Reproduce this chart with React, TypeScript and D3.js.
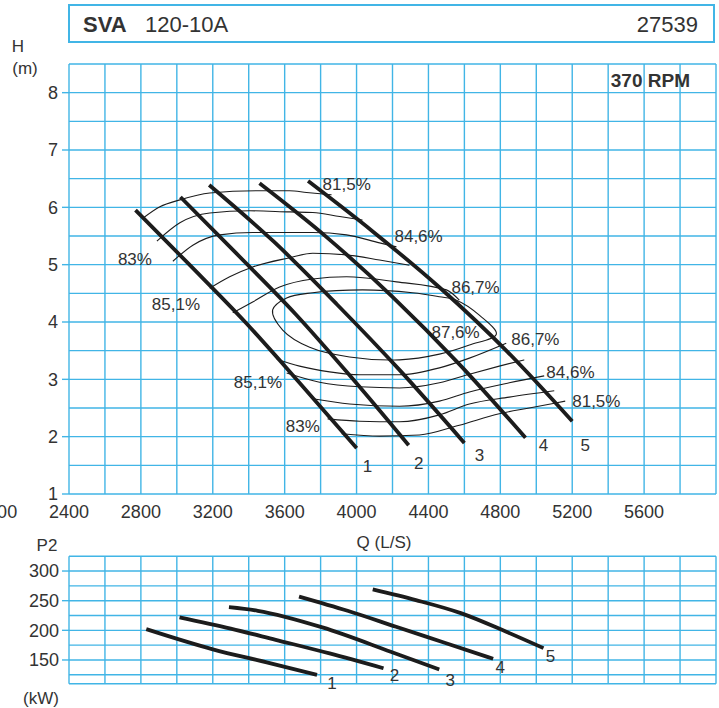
import React from "react";
import * as d3 from "d3";

// ---------- axis ticks ----------
const Q_TICKS = [2000, 2400, 2800, 3200, 3600, 4000, 4400, 4800, 5200, 5600];
const H_TICKS = [1, 2, 3, 4, 5, 6, 7, 8];
const P_TICKS = [150, 200, 250, 300];
const CURVE_NAMES = ["1", "2", "3", "4", "5"];

// ---------- head curves (Q L/s, H m) ----------
const H1_Q = [2770, 3070, 3380, 3680, 4000];
const H1_H = [5.95, 5.0, 4.0, 2.95, 1.8];
const H2_Q = [3020, 3330, 3660, 3970, 4290];
const H2_H = [6.18, 5.2, 4.14, 3.04, 1.85];
const H3_Q = [3180, 3540, 3890, 4240, 4600];
const H3_H = [6.39, 5.4, 4.31, 3.16, 1.89];
const H4_Q = [3460, 3830, 4200, 4570, 4940];
const H4_H = [6.42, 5.49, 4.44, 3.27, 1.98];
const H5_Q = [3730, 4090, 4470, 4840, 5200];
const H5_H = [6.46, 5.58, 4.58, 3.48, 2.27];

// ---------- power curves (Q L/s, P2 kW) ----------
const P1_Q = [2830, 3200, 3500, 3780];
const P1_P = [202, 168, 146, 125];
const P2_Q = [3015, 3300, 3550, 3850, 4150];
const P2_P = [222, 203, 184, 161, 136];
const P3_Q = [3290, 3450, 3810, 4190, 4460];
const P3_P = [239, 233, 205, 164, 134];
const P4_Q = [3680, 3950, 4220, 4490, 4760];
const P4_P = [257, 233, 206, 179, 152];
const P5_Q = [4090, 4330, 4580, 4830, 5040];
const P5_P = [269, 251, 229, 198, 170];

// ---------- efficiency iso-lines ----------
const E815_UP_Q = [2811, 2906, 3017, 3183, 3444, 3628, 3722, 3861];
const E815_UP_H = [5.81, 6.01, 6.13, 6.25, 6.29, 6.29, 6.26, 6.22];
const E83_UP_Q = [2889, 3017, 3183, 3406, 3628, 3756, 3906, 4033];
const E83_UP_H = [5.41, 5.73, 5.9, 5.94, 5.92, 5.91, 5.84, 5.78];
const E846_UP_Q = [2978, 3089, 3239, 3422, 3628, 3756, 3944, 4128, 4222];
const E846_UP_H = [5.06, 5.34, 5.52, 5.56, 5.56, 5.56, 5.52, 5.38, 5.31];
const E851_UP_Q = [3183, 3294, 3422, 3628, 3756, 3944, 4128, 4294];
const E851_UP_H = [4.59, 4.79, 4.96, 5.12, 5.2, 5.17, 5.08, 4.99];
const E867_UP_Q = [3311, 3422, 3572, 3756, 3944, 4222, 4500, 4572];
const E867_UP_H = [4.16, 4.35, 4.61, 4.75, 4.79, 4.7, 4.56, 4.38];
const E876_Q = [3533, 3611, 3756, 4033, 4311, 4461, 4556, 4683, 4778, 4628, 4461, 4239, 3961, 3739, 3589];
const E876_H = [4.21, 4.42, 4.51, 4.56, 4.51, 4.44, 4.38, 4.12, 3.79, 3.6, 3.44, 3.34, 3.39, 3.56, 3.86];
const E867_LO_Q = [3556, 3683, 3850, 4017, 4239, 4461, 4628, 4833];
const E867_LO_H = [3.35, 3.23, 3.13, 3.08, 3.08, 3.2, 3.37, 3.63];
const E851_LO_Q = [3611, 3794, 4017, 4239, 4461, 4628, 4794, 4933];
const E851_LO_H = [3.11, 2.95, 2.87, 2.85, 2.94, 3.09, 3.23, 3.34];
const E846_LO_Q = [3756, 3961, 4239, 4461, 4628, 4850, 5044];
const E846_LO_H = [2.66, 2.57, 2.53, 2.62, 2.78, 2.94, 3.06];
const E83_LO_Q = [3839, 4017, 4239, 4461, 4628, 4850, 5100];
const E83_LO_H = [2.31, 2.27, 2.26, 2.38, 2.57, 2.69, 2.8];
const E815_LO_Q = [3917, 4128, 4350, 4572, 4794, 4961, 5161];
const E815_LO_H = [2.05, 2.01, 2.03, 2.2, 2.4, 2.5, 2.62];

const EFF_LABELS = ["81,5%", "84,6%", "86,7%", "87,6%", "86,7%", "84,6%", "81,5%", "83%", "85,1%", "85,1%", "83%"];
const EFF_LABEL_Q = [3811, 4211, 4528, 4417, 4861, 5056, 5200, 2672, 2861, 3317, 3606];
const EFF_LABEL_H = [6.3, 5.4, 4.51, 3.72, 3.6, 3.02, 2.52, 4.99, 4.21, 2.85, 2.08];

// ---------- layout / style ----------
const W = 719;
const H = 708;
const L = 69;
const R = 716;
const TOP1 = 64;
const BOT1 = 494;
const TOP2 = 556.2;
const BOT2 = 683.7;
const GRID = "#41b5e6";
const TXT = "#333";
const INK = "#1c1c1c";
const FONT = "'Liberation Sans', Arial, Helvetica, sans-serif";
const HEAD_NUM_OFFSETS = [[11, 24], [10, 24], [15, 18], [18, 13], [13, 30]];
const POW_NUM_OFFSETS = [[15, 8], [11, 7], [11, 11], [7, 8], [7, 8]];

const zip = (a: number[], b: number[]) => a.map((v, i) => [v, b[i]] as [number, number]);

export default function App() {
  const x = d3.scaleLinear().domain([2400, 6000]).range([L, R]);
  const yH = d3.scaleLinear().domain([1, 8.5]).range([BOT1, TOP1]);
  const yP = d3.scaleLinear().domain([110, 325]).range([BOT2, TOP2]);

  const lineH = d3
    .line<[number, number]>()
    .x((d) => x(d[0]))
    .y((d) => yH(d[1]))
    .curve(d3.curveMonotoneX);
  const lineP = d3
    .line<[number, number]>()
    .x((d) => x(d[0]))
    .y((d) => yP(d[1]))
    .curve(d3.curveMonotoneX);
  const closedH = d3
    .line<[number, number]>()
    .x((d) => x(d[0]))
    .y((d) => yH(d[1]))
    .curve(d3.curveCatmullRomClosed.alpha(0.5));

  const headCurves = [zip(H1_Q, H1_H), zip(H2_Q, H2_H), zip(H3_Q, H3_H), zip(H4_Q, H4_H), zip(H5_Q, H5_H)];
  const powCurves = [zip(P1_Q, P1_P), zip(P2_Q, P2_P), zip(P3_Q, P3_P), zip(P4_Q, P4_P), zip(P5_Q, P5_P)];
  const effOpen = [
    zip(E815_UP_Q, E815_UP_H),
    zip(E83_UP_Q, E83_UP_H),
    zip(E846_UP_Q, E846_UP_H),
    zip(E851_UP_Q, E851_UP_H),
    zip(E867_UP_Q, E867_UP_H),
    zip(E867_LO_Q, E867_LO_H),
    zip(E851_LO_Q, E851_LO_H),
    zip(E846_LO_Q, E846_LO_H),
    zip(E83_LO_Q, E83_LO_H),
    zip(E815_LO_Q, E815_LO_H),
  ];
  const effClosed = zip(E876_Q, E876_H);

  const vGrid = d3.range(2400, 6001, 200);
  const hGrid1 = d3.range(1, 8.51, 0.5);
  const hGrid2 = [110, 125, 150, 175, 200, 225, 250, 275, 300, 325];

  return (
    <div style={{ position: "absolute", left: 0, top: 0 }}>
      <svg width={W} height={H} style={{ display: "block", fontFamily: FONT }}>
        <rect x={0} y={0} width={W} height={H} fill="#fff" />

        {/* title box */}
        <rect x={L} y={5} width={R - L - 2} height={37} fill="none" stroke={GRID} strokeWidth={2} />
        <text x={83} y={32} fontSize={22} fontWeight="bold" fill={TXT}>SVA</text>
        <text x={145} y={32} fontSize={22} fill={TXT}>120-10A</text>
        <text x={698} y={32} fontSize={22} fill={TXT} textAnchor="end">27539</text>

        {/* axis titles */}
        <text x={18} y={46} fontSize={17} fill={TXT} textAnchor="middle" dy="0.35em">H</text>
        <text x={25} y={68} fontSize={17} fill={TXT} textAnchor="middle" dy="0.35em">(m)</text>
        <text x={384} y={548} fontSize={17} fill={TXT} textAnchor="middle">Q  (L/S)</text>
        <text x={47} y={545} fontSize={17} fill={TXT} textAnchor="middle" dy="0.35em">P2</text>
        <text x={41} y={698} fontSize={17} fill={TXT} textAnchor="middle" dy="0.35em">(kW)</text>

        {/* top grid */}
        <g stroke={GRID} strokeWidth={1.4}>
          {vGrid.map((q) => (
            <line key={"v1" + q} x1={x(q)} x2={x(q)} y1={TOP1} y2={BOT1} />
          ))}
          {hGrid1.map((h) => (
            <line key={"h1" + h} x1={L} x2={R} y1={yH(h)} y2={yH(h)} />
          ))}
          {H_TICKS.map((h) => (
            <line key={"t1" + h} x1={L - 7} x2={L} y1={yH(h)} y2={yH(h)} />
          ))}
        </g>
        {/* bottom grid */}
        <g stroke={GRID} strokeWidth={1.4}>
          {vGrid.map((q) => (
            <line key={"v2" + q} x1={x(q)} x2={x(q)} y1={TOP2} y2={BOT2} />
          ))}
          {hGrid2.map((p) => (
            <line key={"h2" + p} x1={L} x2={R} y1={yP(p)} y2={yP(p)} />
          ))}
          {P_TICKS.map((p) => (
            <line key={"t2" + p} x1={L - 7} x2={L} y1={yP(p)} y2={yP(p)} />
          ))}
        </g>

        {/* tick labels */}
        {H_TICKS.map((h) => (
          <text key={"hl" + h} x={58} y={yH(h)} dy="0.35em" fontSize={18} fill={TXT} textAnchor="end">
            {h}
          </text>
        ))}
        {P_TICKS.map((p) => (
          <text key={"pl" + p} x={59} y={yP(p)} dy="0.35em" fontSize={18} fill={TXT} textAnchor="end">
            {p}
          </text>
        ))}
        {Q_TICKS.map((q) => (
          <text key={"ql" + q} x={x(q)} y={518} fontSize={18} fill={TXT} textAnchor="middle">
            {q}
          </text>
        ))}

        <text x={690} y={87} fontSize={19} fontWeight="bold" fill={TXT} textAnchor="end">370 RPM</text>

        {/* efficiency lines */}
        <g fill="none" stroke={INK} strokeWidth={1.1}>
          {effOpen.map((pts, i) => (
            <path key={"e" + i} d={lineH(pts) || ""} />
          ))}
          <path d={closedH(effClosed) || ""} />
        </g>
        {EFF_LABELS.map((t, i) => (
          <text key={"el" + i} x={x(EFF_LABEL_Q[i])} y={yH(EFF_LABEL_H[i])} fontSize={17} fill={TXT}>
            {t}
          </text>
        ))}

        {/* head curves */}
        <g fill="none" stroke={INK} strokeWidth={3.8}>
          {headCurves.map((pts, i) => (
            <path key={"hc" + i} d={lineH(pts) || ""} />
          ))}
        </g>
        {headCurves.map((pts, i) => {
          const last = pts[pts.length - 1];
          return (
            <text
              key={"hn" + i}
              x={x(last[0]) + HEAD_NUM_OFFSETS[i][0]}
              y={yH(last[1]) + HEAD_NUM_OFFSETS[i][1]}
              fontSize={17}
              fill={TXT}
              textAnchor="middle"
            >
              {CURVE_NAMES[i]}
            </text>
          );
        })}

        {/* power curves */}
        <g fill="none" stroke={INK} strokeWidth={3.8}>
          {powCurves.map((pts, i) => (
            <path key={"pc" + i} d={lineP(pts) || ""} />
          ))}
        </g>
        {powCurves.map((pts, i) => {
          const last = pts[pts.length - 1];
          return (
            <text
              key={"pn" + i}
              x={x(last[0]) + POW_NUM_OFFSETS[i][0]}
              y={yP(last[1]) + POW_NUM_OFFSETS[i][1]}
              dy="0.35em"
              fontSize={17}
              fill={TXT}
              textAnchor="middle"
            >
              {CURVE_NAMES[i]}
            </text>
          );
        })}
      </svg>
    </div>
  );
}
